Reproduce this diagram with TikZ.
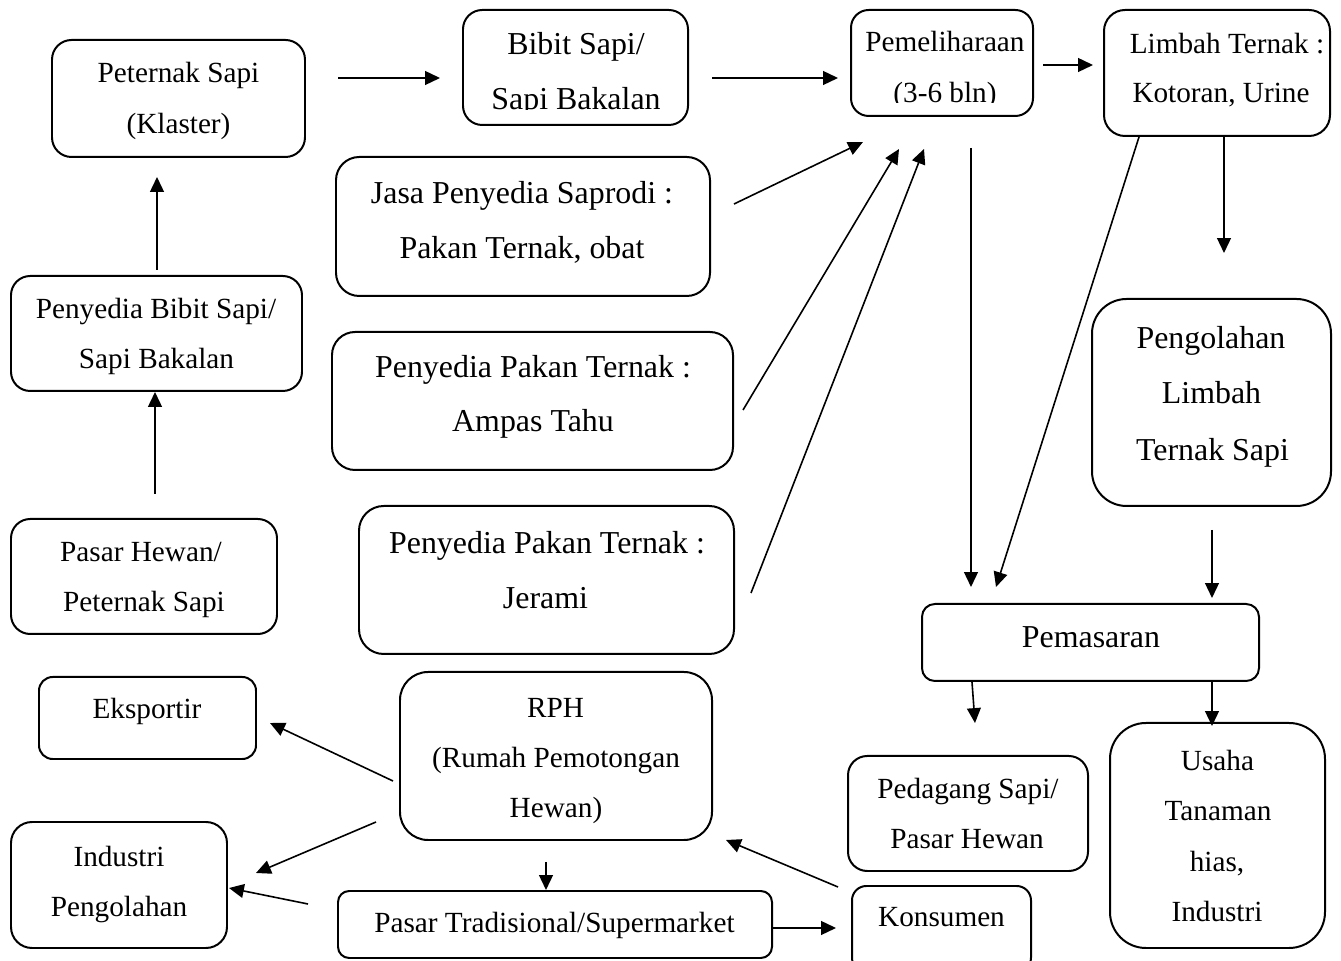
\documentclass[tikz,border=0pt]{standalone}
\usepackage{fontspec}
\setmainfont{Liberation Serif}
\usetikzlibrary{arrows.meta}
\tikzset{
  box/.style={draw, line width=0.75pt, inner sep=0pt},
  txts/.style={anchor=base, inner sep=0pt, font=\fontsize{11}{13}\selectfont},
  txtb/.style={anchor=base, inner sep=0pt, font=\fontsize{12}{14}\selectfont},
  arr/.style={line width=0.6pt, -{Triangle[length=5.6pt, width=5.2pt]}}
}
\newcommand\rbox[5]{%
  \pgfmathsetmacro\rbw{(#4-#2)*0.3762}%
  \pgfmathsetmacro\rbh{(#5-#3)*0.3762}%
  \pgfmathsetmacro\rbr{0.167*min(\rbw,\rbh)}%
  \node[box, minimum width=\rbw pt, minimum height=\rbh pt, rounded corners=\rbr pt] (#1) at ({(#2+#4)/2},{(#3+#5)/2}) {};}
\newcommand\tls[4]{\node[txts] (#1) at (#2,#3) {#4};}
\newcommand\tlb[4]{\node[txtb] (#1) at (#2,#3) {#4};}
\begin{document}
\begin{tikzpicture}[x=0.3762pt, y=-0.3762pt]
\useasboundingbox (0,0) rectangle (1341,961);
% boxes
\rbox{peternak}{52}{40}{305}{157}
\rbox{bibit}{463}{10}{688}{125}
\rbox{pemel}{851}{10}{1033}{116}
\rbox{limbah}{1104}{10}{1330}{136}
\rbox{jasa}{336}{157}{710}{296}
\rbox{pbibit}{11}{276}{302}{391}
\rbox{ampas}{332}{332}{733}{470}
\rbox{olah}{1092}{299}{1331}{506}
\rbox{phewan}{11}{519}{277}{634}
\rbox{jerami}{359}{506}{734}{654}
\rbox{pemasaran}{922}{604}{1259}{681}
\rbox{ekspor}{39}{677}{256}{759}
\rbox{rph}{400}{672}{712}{840}
\rbox{pedagang}{848}{756}{1088}{871}
\rbox{usaha}{1110}{723}{1325}{948}
\rbox{industri}{11}{822}{227}{948}
\rbox{ptrad}{338}{891}{772}{958}
\rbox{konsumen}{852}{886}{1031}{972}
% texts
\tls{t1a}{178.5}{83}{Peternak Sapi}
\tls{t1b}{178.5}{134}{(Klaster)}
\begin{scope}
  \clip (463,0) rectangle (688,110);
  \tlb{t2a}{576}{55}{Bibit Sapi/}
  \tlb{t2b}{576}{109.5}{Sapi Bakalan}
\end{scope}
\begin{scope}
  \clip (851,0) rectangle (1033,102.5);
  \tls{t3a}{945}{52}{Pemeliharaan}
  \tls{t3b}{945}{102.5}{(3-6 bln)}
\end{scope}
\tls{t4a}{1227}{54}{Limbah Ternak :}
\tls{t4b}{1221}{103}{Kotoran, Urine}
\tlb{t5a}{522}{203.5}{Jasa Penyedia Saprodi :}
\tlb{t5b}{522}{258.5}{Pakan Ternak, obat}
\tls{t6a}{156}{319}{Penyedia Bibit Sapi/}
\tls{t6b}{156.5}{369}{Sapi Bakalan}
\tlb{t7a}{533}{377.5}{Penyedia Pakan Ternak :}
\tlb{t7b}{533}{431.5}{Ampas Tahu}
\tlb{t8a}{1211}{348.5}{Pengolahan}
\tlb{t8b}{1211.5}{403.5}{Limbah}
\tlb{t8c}{1212.5}{460.5}{Ternak Sapi}
\tls{t9a}{141}{562}{Pasar Hewan/}
\tls{t9b}{144}{612}{Peternak Sapi}
\tlb{t10a}{547}{553.5}{Penyedia Pakan Ternak :}
\tlb{t10b}{545.5}{608.5}{Jerami}
\tlb{t11}{1091}{647.5}{Pemasaran}
\tls{t12}{147}{719}{Eksportir}
\tls{t13a}{555.5}{718}{RPH}
\tls{t13b}{556}{768}{(Rumah Pemotongan}
\tls{t13c}{556}{818}{Hewan)}
\tls{t14a}{968}{799}{Pedagang Sapi/}
\tls{t14b}{967}{849}{Pasar Hewan}
\tls{t15a}{1217.5}{771}{Usaha}
\tls{t15b}{1218}{821}{Tanaman}
\tls{t15c}{1217}{872}{hias,}
\tls{t15d}{1217}{922}{Industri}
\tls{t16a}{119}{867}{Industri}
\tls{t16b}{119}{917}{Pengolahan}
\tls{t17}{554.5}{933}{Pasar Tradisional/Supermarket}
\tls{t18}{941.5}{927}{Konsumen}
% arrow end points
\coordinate (a1) at (338,78);   \coordinate (a2) at (440,78);
\coordinate (b1) at (712,78);   \coordinate (b2) at (838,78);
\coordinate (c1) at (1043,65);  \coordinate (c2) at (1093,65);
\coordinate (d1) at (157,270);  \coordinate (d2) at (157,177);
\coordinate (e1) at (155,494);  \coordinate (e2) at (155,392);
\coordinate (f1) at (734,204);  \coordinate (f2) at (863,142);
\coordinate (g1) at (743,410);  \coordinate (g2) at (899,149);
\coordinate (h1) at (751,593);  \coordinate (h2) at (924,149);
\coordinate (i1) at (971,148);  \coordinate (i2) at (971,587);
\coordinate (j1) at (1139,137); \coordinate (j2) at (996,587);
\coordinate (k1) at (1224,137); \coordinate (k2) at (1224,253);
\coordinate (l1) at (1212,530); \coordinate (l2) at (1212,598);
\coordinate (m1) at (972,682);  \coordinate (m2) at (975,723);
\coordinate (n1) at (1212,682); \coordinate (n2) at (1212,726);
\coordinate (o1) at (393,781);  \coordinate (o2) at (270,723);
\coordinate (p1) at (376,822);  \coordinate (p2) at (256,873);
\coordinate (q1) at (308,904);  \coordinate (q2) at (229,888);
\coordinate (r1) at (546,862);  \coordinate (r2) at (546,890);
\coordinate (s1) at (773,928);  \coordinate (s2) at (836,928);
\coordinate (u1) at (838,887);  \coordinate (u2) at (726,840);
% arrows
\draw[arr] (a1) -- (a2);
\draw[arr] (b1) -- (b2);
\draw[arr] (c1) -- (c2);
\draw[arr] (d1) -- (d2);
\draw[arr] (e1) -- (e2);
\draw[arr] (f1) -- (f2);
\draw[arr] (g1) -- (g2);
\draw[arr] (h1) -- (h2);
\draw[arr] (i1) -- (i2);
\draw[arr] (j1) -- (j2);
\draw[arr] (k1) -- (k2);
\draw[arr] (l1) -- (l2);
\draw[arr] (m1) -- (m2);
\draw[arr] (n1) -- (n2);
\draw[arr] (o1) -- (o2);
\draw[arr] (p1) -- (p2);
\draw[arr] (q1) -- (q2);
\draw[arr] (r1) -- (r2);
\draw[arr] (s1) -- (s2);
\draw[arr] (u1) -- (u2);
\end{tikzpicture}
\end{document}
